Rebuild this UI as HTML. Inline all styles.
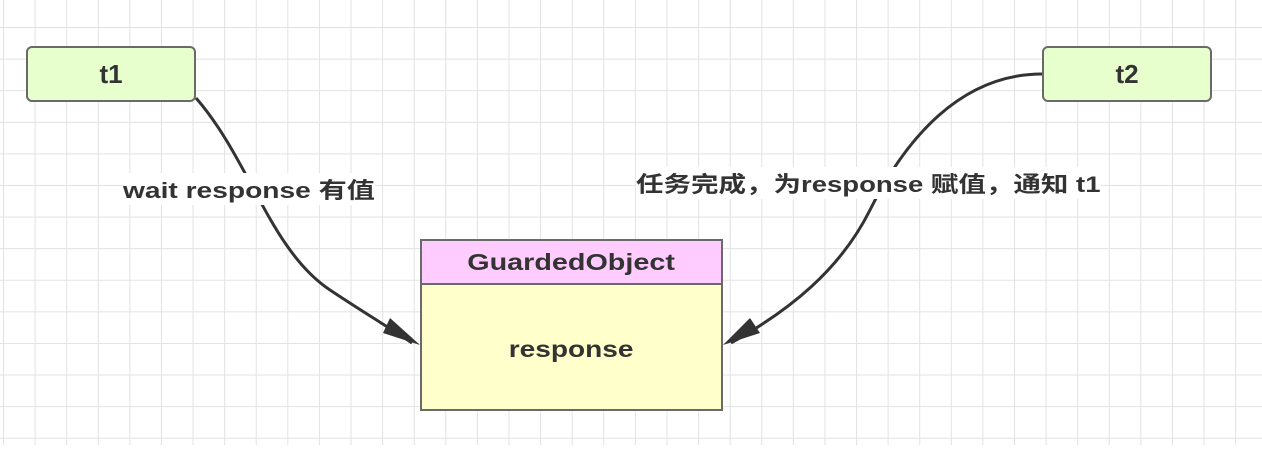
<!DOCTYPE html>
<html><head><meta charset="utf-8"><style>
html,body{margin:0;padding:0;background:#fff;}
body{width:1262px;height:459px;position:relative;overflow:hidden;font-family:"Liberation Sans","Noto Sans CJK SC",sans-serif;}
.grid{position:absolute;left:0;top:0;width:1262px;height:445px;
background-image:linear-gradient(to right,#e2e2e2 1px,transparent 1px),linear-gradient(to bottom,#e2e2e2 1px,transparent 1px);
background-size:31.6px 31.6px;background-position:3px 27px;}
.node{position:absolute;box-sizing:border-box;background:#e6ffcc;border:2px solid #6a6a6a;border-radius:6px;font-weight:bold;font-size:26px;color:#333;text-align:center;line-height:52px;}
.lbl{position:absolute;font-weight:bold;font-size:22px;color:#333;white-space:nowrap;background:#fff;transform-origin:0 0;}
.s{display:inline-block;transform:scaleX(1.22);}
</style></head><body>
<div class="grid"></div>
<svg width="1262" height="459" style="position:absolute;left:0;top:0">
<path d="M196,98 C250,160 270,250 330,290 C360,310 385,325 412,343" stroke="#333" stroke-width="3" fill="none"/>
<path d="M390,318 L420,345 L383,333 Z" fill="#333"/>
<path d="M1042,74 C960,74 905,140 870,210 C840,270 790,310 731,343" stroke="#333" stroke-width="3" fill="none"/>
<path d="M750,318 L723,345 L760,333 Z" fill="#333"/>
</svg>
<div class="node" style="left:26px;top:46px;width:170px;height:56px;">t1</div>
<div class="node" style="left:1042px;top:46px;width:170px;height:56px;">t2</div>
<div class="lbl" style="left:123px;top:173px;transform:scaleX(1.28);">wait response 有值</div>
<div class="lbl" style="left:636px;top:167px;transform:scaleX(1.25);">任务完成，为response 赋值，通知 t1</div>
<div style="position:absolute;left:420px;top:239px;width:303px;height:172px;box-sizing:border-box;border:2px solid #6a6a6a;background:#ffffcc;">
<div style="height:42px;background:#ffccff;border-bottom:2px solid #6a6a6a;text-align:center;line-height:42px;font-weight:bold;font-size:23px;color:#333;"><span class="s" style="transform:scaleX(1.25)">GuardedObject</span></div>
<div style="text-align:center;line-height:128px;font-weight:bold;font-size:23px;color:#333;"><span class="s">response</span></div>
</div>
</body></html>
